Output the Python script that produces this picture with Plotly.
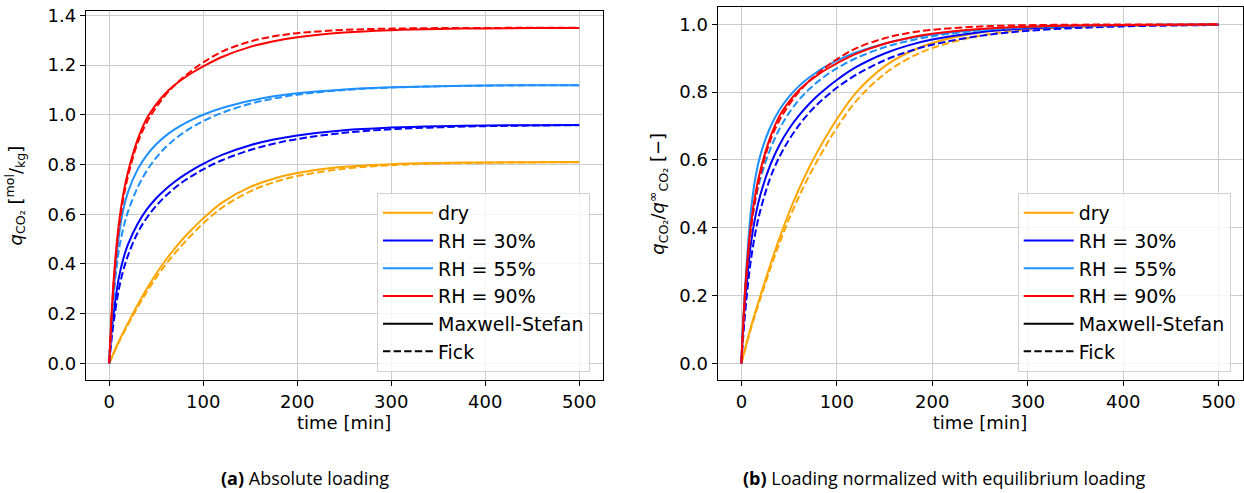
import plotly.graph_objects as go

# Sampling times of the uptake simulations [min]
TIME_MIN = [0, 2, 5, 10, 15, 20, 30, 40, 50, 60, 70, 80, 90, 100, 120, 150, 175,
            200, 250, 300, 350, 400, 450, 500]

CONDITIONS = ["dry", "RH = 30%", "RH = 55%", "RH = 90%"]
COLORS = ["orange", "blue", "dodgerblue", "red"]

# Equilibrium CO2 loading per condition [mol/kg]
EQ_LOADING = [0.81, 0.96, 1.12, 1.35]

# Fractional uptake q/q_inf, Maxwell-Stefan model
MS_DRY = [0, 0.022, 0.055, 0.107, 0.155, 0.2, 0.288, 0.37, 0.445, 0.512, 0.572, 0.626,
          0.675, 0.72, 0.798, 0.876, 0.917, 0.945, 0.976, 0.989, 0.995, 0.998, 0.999, 0.9996]
MS_RH30 = [0, 0.113, 0.218, 0.353, 0.438, 0.498, 0.583, 0.645, 0.692, 0.73, 0.762, 0.79,
           0.814, 0.836, 0.8735, 0.914, 0.938, 0.955, 0.977, 0.988, 0.994, 0.997, 0.998, 0.999]
MS_RH55 = [0, 0.13, 0.27, 0.45, 0.552, 0.615, 0.695, 0.748, 0.787, 0.817, 0.841, 0.861,
           0.878, 0.893, 0.917, 0.943, 0.959, 0.97, 0.984, 0.992, 0.9955, 0.998, 0.999, 0.9993]
MS_RH90 = [0, 0.119, 0.258, 0.41, 0.505, 0.57, 0.665, 0.73, 0.772, 0.805, 0.83, 0.851,
           0.869, 0.885, 0.913, 0.943, 0.96, 0.972, 0.986, 0.993, 0.9966, 0.998, 0.999, 0.9996]

# Fractional uptake q/q_inf, Fick model
FICK_DRY = [0, 0.02, 0.052, 0.102, 0.148, 0.192, 0.277, 0.355, 0.426, 0.49, 0.548, 0.6,
            0.649, 0.695, 0.773, 0.854, 0.899, 0.93, 0.9665, 0.984, 0.992, 0.996, 0.998, 0.999]
FICK_RH30 = [0, 0.08, 0.18, 0.305, 0.39, 0.452, 0.545, 0.61, 0.66, 0.701, 0.736, 0.765,
             0.79, 0.813, 0.851, 0.894, 0.92, 0.94, 0.966, 0.981, 0.989, 0.994, 0.9965, 0.998]
FICK_RH55 = [0, 0.12, 0.25, 0.4, 0.485, 0.545, 0.63, 0.692, 0.739, 0.776, 0.806, 0.831,
             0.852, 0.87, 0.9, 0.9325, 0.951, 0.965, 0.982, 0.9906, 0.995, 0.9975, 0.9987, 0.9993]
FICK_RH90 = [0, 0.11, 0.245, 0.395, 0.49, 0.558, 0.655, 0.718, 0.763, 0.8, 0.83, 0.855,
             0.877, 0.897, 0.929, 0.959, 0.9745, 0.984, 0.9937, 0.9975, 0.999, 0.9996, 0.9998, 1.0]

MS_UPTAKE = [MS_DRY, MS_RH30, MS_RH55, MS_RH90]
FICK_UPTAKE = [FICK_DRY, FICK_RH30, FICK_RH55, FICK_RH90]

X_TICKS = [0, 100, 200, 300, 400, 500]

W, H = 1244, 493
LW = 2
DASH = "7.4px,3.2px"
FONT = "DejaVu Sans"
FS = 18
GRID = "#cbcbcb"

fig = go.Figure()

for panel, (xa, ya) in enumerate([("x", "y"), ("x2", "y2")]):
    for i, cond in enumerate(CONDITIONS):
        for model, uptake, dash in (("Maxwell-Stefan", MS_UPTAKE[i], "solid"),
                                    ("Fick", FICK_UPTAKE[i], DASH)):
            yvals = [u * EQ_LOADING[i] for u in uptake] if panel == 0 else uptake
            fig.add_trace(go.Scatter(
                x=TIME_MIN, y=yvals, xaxis=xa, yaxis=ya, mode="lines",
                line=dict(color=COLORS[i], width=LW, dash=dash, shape="spline",
                          smoothing=1.0),
                showlegend=False, hoverinfo="skip"))

    # legend-only entries
    leg = "legend" if panel == 0 else "legend2"
    entries = [(c, col, "solid") for c, col in zip(CONDITIONS, COLORS)]
    entries += [("Maxwell-Stefan", "black", "solid"), ("Fick", "black", DASH)]
    for k, (name, col, dash) in enumerate(entries):
        fig.add_trace(go.Scatter(
            x=[None], y=[None], xaxis=xa, yaxis=ya, mode="lines", name=name,
            line=dict(color=col, width=LW, dash=dash), legend=leg,
            legendgroup=f"{leg}_{k}", showlegend=True))

axis_common = dict(
    showline=True, linecolor="black", linewidth=1, mirror=True,
    ticks="outside", ticklen=5, tickwidth=1, tickcolor="black",
    showgrid=True, gridcolor=GRID, gridwidth=1, zeroline=False,
    tickfont=dict(family=FONT, size=FS, color="black"),
    automargin=False,
)

legend_common = dict(
    bgcolor="rgba(255,255,255,0.8)", bordercolor="#d0d0d0", borderwidth=1,
    font=dict(family=FONT, size=19, color="black"),
    xanchor="left", yanchor="top", traceorder="grouped", tracegroupgap=0,
    itemwidth=50,
)

fig.update_layout(
    width=W, height=H,
    margin=dict(l=0, r=0, t=0, b=0),
    paper_bgcolor="white", plot_bgcolor="white",
    font=dict(family=FONT, size=FS, color="black"),
    xaxis=dict(domain=[85.7 / W, 602.7 / W], range=[-25, 525], tickvals=X_TICKS,
               anchor="y",
               title=dict(text="time [min]", font=dict(family=FONT, size=FS), standoff=2),
               **axis_common),
    yaxis=dict(domain=[(H - 380.1) / H, (H - 11) / H], range=[-0.0675, 1.4175],
               dtick=0.2, tick0=0, tickformat=".1f", anchor="x",
               title=dict(text="<i>q</i><sub>CO₂</sub> [<sup>mol</sup>/<sub>kg</sub>]",
                          font=dict(family=FONT, size=FS), standoff=20),
               **axis_common),
    xaxis2=dict(domain=[717.5 / W, 1242.5 / W], range=[-25, 525], tickvals=X_TICKS,
                anchor="y2",
                title=dict(text="time [min]", font=dict(family=FONT, size=FS), standoff=2),
                **axis_common),
    yaxis2=dict(domain=[(H - 380.3) / H, (H - 7.4) / H], range=[-0.05, 1.05],
                dtick=0.2, tick0=0, tickformat=".1f", anchor="x2",
                title=dict(text="<i>q</i><sub>CO₂</sub>/<i>q</i><sup>∞</sup><sub>CO₂</sub> [−]",
                           font=dict(family=FONT, size=FS), standoff=9),
                **axis_common),
    legend=dict(x=377 / W, y=(H - 193) / H, **legend_common),
    legend2=dict(x=1017.7 / W, y=(H - 193) / H, **legend_common),
    annotations=[
        dict(text="<b>(a)</b> Absolute loading", x=305 / W, y=(H - 478) / H,
             xref="paper", yref="paper", showarrow=False, xanchor="center",
             yanchor="middle", font=dict(family="Open Sans", size=FS, color="black")),
        dict(text="<b>(b)</b> Loading normalized with equilibrium loading",
             x=944 / W, y=(H - 478) / H, xref="paper", yref="paper",
             showarrow=False, xanchor="center", yanchor="middle",
             font=dict(family="Open Sans", size=FS, color="black")),
    ],
)

fig.write_html("out.html")
